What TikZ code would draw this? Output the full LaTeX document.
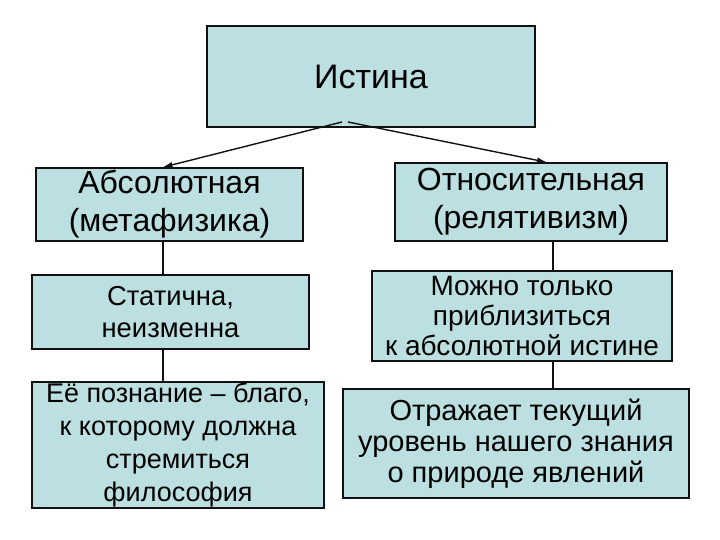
\documentclass[tikz,border=0pt]{standalone}
\usepackage{fontspec}
\setmainfont{Liberation Sans}
\usetikzlibrary{positioning,arrows.meta,calc}
\definecolor{boxFill}{HTML}{BCDFE2}
\definecolor{lineBlack}{HTML}{111111}

\begin{document}
\begin{tikzpicture}[
  x=0.5pt, y=-0.5pt,
  >={Latex[length=5pt,width=3pt]},
  box/.style={rectangle, draw=lineBlack, fill=boxFill, line width=0.7pt,
              align=center, inner sep=1pt},
  link/.style={draw=lineBlack, line width=0.6pt},
  flow/.style={->, draw=lineBlack, line width=0.7pt}
]
\useasboundingbox (0,0) rectangle (720,540);

% ===== Top node ========================================================
\node[box, minimum width=164pt, minimum height=50.5pt,
      font=\fontsize{17}{20}\selectfont] (truth) at (371,76.5) {Истина};

% ===== Left column — absolute =========================================
\node[box, minimum width=133.5pt, minimum height=36.5pt,
      font=\fontsize{16}{19}\selectfont] (absol) at (169.5,204.5)
  {Абсолютная\\(метафизика)};
\node[box, minimum width=138.5pt, minimum height=37pt,
      font=\fontsize{13.7}{16}\selectfont] (static) at (170.5,312)
  {Статична,\\неизменна};
\node[box, minimum width=146pt, minimum height=63pt, inner sep=0pt,
      font=\fontsize{13.5}{16.5}\selectfont] (good) at (178,445)
  {Её познание – благо,\\к которому должна\\стремиться\\философия};

% ===== Right column — relative ========================================
\node[box, minimum width=136pt, minimum height=39pt,
      font=\fontsize{16}{19}\selectfont] (relat) at (531,202)
  {Относительная\\(релятивизм)};
\node[box, minimum width=150pt, minimum height=45pt,
      font=\fontsize{14}{15}\selectfont] (approx) at (522,316)
  {Можно только\\приблизиться\\к абсолютной истине};
\node[box, minimum width=173pt, minimum height=54.5pt,
      font=\fontsize{14.5}{15.5}\selectfont] (reflect) at (516,443.5)
  {Отражает текущий\\уровень нашего знания\\о природе явлений};

% ===== Connectors ======================================================
\coordinate (forkL) at (342,122);
\coordinate (forkR) at (348,122);
\coordinate (spineL) at (163,0);
\coordinate (spineR) at (553,0);

\draw[flow] (forkL) -- ([xshift=-3.5pt]absol.north);
\draw[flow] (forkR) -- ([xshift=8pt]relat.north);

\draw[link] (absol.south -| spineL) -- (static.north -| spineL);
\draw[link] (static.south -| spineL) -- (good.north -| spineL);
\draw[link] (relat.south -| spineR) -- (approx.north -| spineR);
\draw[link] (approx.south -| spineR) -- (reflect.north -| spineR);

\end{tikzpicture}
\end{document}
